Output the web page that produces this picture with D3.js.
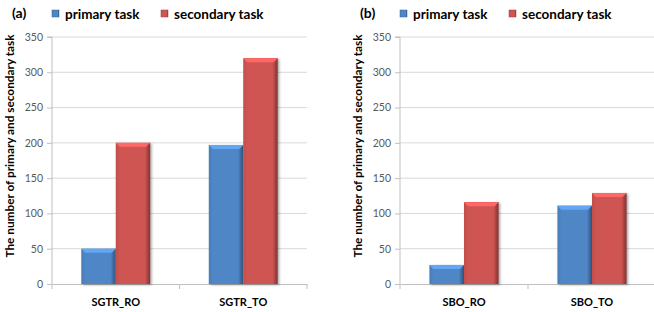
<!DOCTYPE html>
<html lang="en">
<head>
<meta charset="UTF-8">
<title>Primary and secondary tasks</title>
<script src="https://d3js.org/d3.v7.min.js"></script>
<style>
  * { margin: 0; padding: 0; }
  body { background: #fff; }
  text { font-family: Lato, "Open Sans", sans-serif; }
</style>
</head>
<body>
<svg width="654" height="312"></svg>
<script>
// data
var series = ["primary task", "secondary task"];
var colors = ["#4f86c6", "#cf5452"];
var yTicks = [0, 50, 100, 150, 200, 250, 300, 350];

var catsA = ["SGTR_RO", "SGTR_TO"];
var primaryA = [50, 197];
var secondaryA = [200, 320];

var catsB = ["SBO_RO", "SBO_TO"];
var primaryB = [27, 111];
var secondaryB = [116, 129];

var svg = d3.select("svg");

// gradients / shadow
var defs = svg.append("defs");
var f = defs.append("filter").attr("id", "shadow").attr("x", "-20%").attr("y", "-20%").attr("width", "150%").attr("height", "150%");
f.append("feDropShadow").attr("dx", 1.5).attr("dy", 1).attr("stdDeviation", 1).attr("flood-color", "#000").attr("flood-opacity", 0.35);

colors.forEach(function (c, i) {
  var g = defs.append("linearGradient").attr("id", "side" + i).attr("x1", 0).attr("x2", 1).attr("y1", 0).attr("y2", 0);
  g.append("stop").attr("offset", "0%").attr("stop-color", d3.color(c).darker(0.2));
  g.append("stop").attr("offset", "12%").attr("stop-color", c);
  g.append("stop").attr("offset", "85%").attr("stop-color", c);
  g.append("stop").attr("offset", "100%").attr("stop-color", d3.color(c).darker(1.4));
});

function drawPanel(ox, label, cats, prim, sec, right) {
  var top = 37, bottom = 284, left = ox;
  var y = d3.scaleLinear().domain([0, 350]).range([bottom, top]);
  var x = d3.scaleBand().domain(cats).range([left, right]).paddingInner(0).paddingOuter(0);
  var xs = d3.scaleBand().domain(series).range([0, x.bandwidth()]).paddingOuter(0.85).paddingInner(0);

  var g = svg.append("g");

  // grid
  g.selectAll(".grid").data(yTicks.slice(1)).enter().append("line")
    .attr("x1", left).attr("x2", right)
    .attr("y1", function (d) { return y(d); }).attr("y2", function (d) { return y(d); })
    .attr("stroke", "#d9d9d9").attr("stroke-width", 1);

  // y axis
  var ya = g.append("g").attr("transform", "translate(" + left + ",0)")
    .call(d3.axisLeft(y).tickValues(yTicks).tickSize(5).tickPadding(4));
  ya.select(".domain").attr("stroke", "#bfbfbf").attr("d", "M-5," + top + "H0V" + bottom);
  ya.selectAll(".tick line").attr("stroke", "#bfbfbf");
  ya.selectAll(".tick text").attr("fill", "#595959").style("font-size", "10.5px").style("font-family", "Lato, sans-serif");

  // x axis
  var xa = g.append("g").attr("transform", "translate(0," + bottom + ")")
    .call(d3.axisBottom(x).tickSize(0).tickPadding(14));
  xa.select(".domain").attr("stroke", "#bfbfbf");
  xa.selectAll(".tick text").attr("fill", "#000").style("font-size", "11px").style("font-weight", "bold").style("font-family", "Lato, sans-serif");
  g.selectAll(".xsep").data(x.domain().concat(["end"])).enter().append("line")
    .attr("x1", function (d) { return d === "end" ? right : x(d); })
    .attr("x2", function (d) { return d === "end" ? right : x(d); })
    .attr("y1", bottom).attr("y2", bottom + 5)
    .attr("stroke", "#bfbfbf");

  // bars
  var rows = [];
  cats.forEach(function (c, i) {
    rows.push({ cat: c, s: 0, v: prim[i] });
    rows.push({ cat: c, s: 1, v: sec[i] });
  });
  var bars = g.selectAll(".bar").data(rows).enter().append("g").attr("filter", "url(#shadow)");
  bars.append("rect")
    .attr("x", function (d) { return x(d.cat) + xs(series[d.s]); })
    .attr("y", function (d) { return y(d.v); })
    .attr("width", xs.bandwidth())
    .attr("height", function (d) { return bottom - y(d.v); })
    .attr("fill", function (d) { return "url(#side" + d.s + ")"; });
  // bevelled top cap
  bars.append("path")
    .attr("d", function (d) {
      var x0 = x(d.cat) + xs(series[d.s]), x1 = x0 + xs.bandwidth(), yt = y(d.v);
      return "M" + x0 + "," + yt + "H" + x1 + "L" + (x1 - 4) + "," + (yt + 4) + "H" + (x0 + 4) + "Z";
    })
    .attr("fill", function (d) { return d3.color(colors[d.s]).brighter(0.6); });

  // panel label
  svg.append("text").attr("x", ox - 40).attr("y", 18).text(label)
    .style("font-size", "14px").style("font-weight", "bold");

  // legend
  var lg = svg.append("g").attr("transform", "translate(" + (ox) + ",8)");
  var lx = [0, 109];
  series.forEach(function (s, i) {
    lg.append("rect").attr("x", lx[i]).attr("y", 2).attr("width", 7).attr("height", 7)
      .attr("fill", "url(#side" + i + ")").attr("stroke", d3.color(colors[i]).darker(0.8)).attr("stroke-width", 0.5);
    lg.append("text").attr("x", lx[i] + 13).attr("y", 10.5).text(s)
      .style("font-size", "13.5px").style("font-weight", "bold").attr("fill", "#000");
  });

  // y title
  svg.append("text")
    .attr("transform", "translate(" + (ox - 38) + ",146) rotate(-90)")
    .attr("text-anchor", "middle")
    .text("The number of primary and secondary task")
    .style("font-size", "11.8px").style("font-weight", "bold");
}

drawPanel(52, "(a)", catsA, primaryA, secondaryA, 307);
drawPanel(400, "(b)", catsB, primaryB, secondaryB, 656);
</script>
</body>
</html>
